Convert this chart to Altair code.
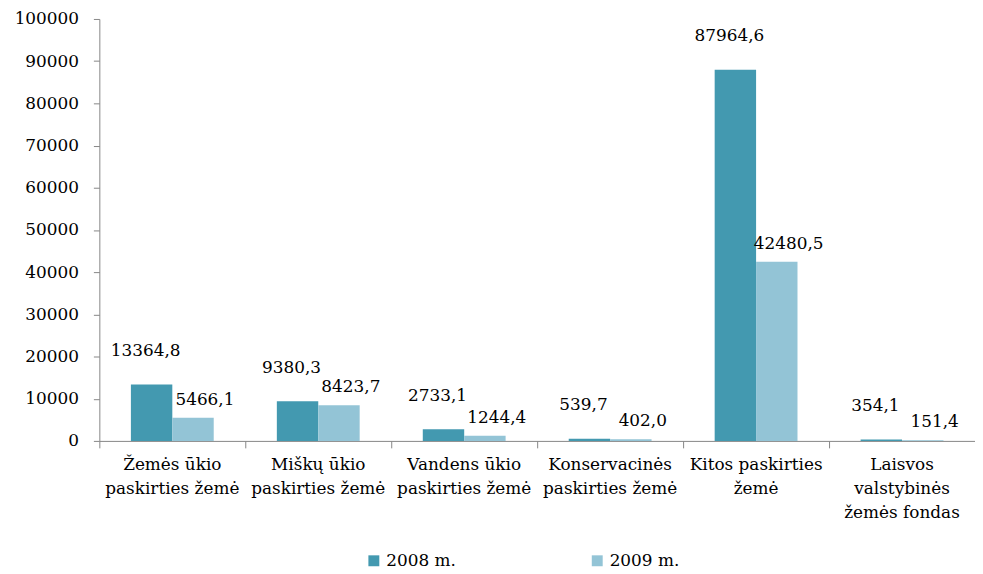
import altair as alt
import pandas as pd

categories = [
    "Žemės ūkio|paskirties žemė",
    "Miškų ūkio|paskirties žemė",
    "Vandens ūkio|paskirties žemė",
    "Konservacinės|paskirties žemė",
    "Kitos paskirties|žemė",
    "Laisvos|valstybinės|žemės fondas",
]
series = ["2008 m.", "2009 m."]
values_2008 = [13364.8, 9380.3, 2733.1, 539.7, 87964.6, 354.1]
values_2009 = [5466.1, 8423.7, 1244.4, 402.0, 42480.5, 151.4]
colors = ["#4399B0", "#93C4D6"]

rows = []
for c, v8, v9 in zip(categories, values_2008, values_2009):
    for s, v in zip(series, [v8, v9]):
        rows.append({"cat": c, "series": s, "value": v,
                     "label": f"{v:.1f}".replace(".", ",")})
df = pd.DataFrame(rows)

FONT = "DejaVu Serif"
FS = 17

x = alt.X("cat:N", sort=categories, title=None,
          scale=alt.Scale(paddingInner=0, paddingOuter=0),
          axis=alt.Axis(labelAngle=0, labelExpr="split(datum.value, '|')",
                        bandPosition=0, labelLineHeight=24, labelPadding=9,
                        tickSize=7, labelFontSize=FS, labelFont=FONT,
                        labelColor="#000000", domainColor="#868686",
                        tickColor="#868686", labelBaseline="top"))
xoff = alt.XOffset("series:N", sort=series,
                   scale=alt.Scale(paddingInner=0, paddingOuter=0.762))
y = alt.Y("value:Q", title=None,
          scale=alt.Scale(domain=[0, 100000], nice=False),
          axis=alt.Axis(values=list(range(0, 100001, 10000)), format="d",
                        grid=False, tickSize=6, labelPadding=15,
                        labelFontSize=FS, labelFont=FONT, labelColor="#000000",
                        domainColor="#868686", tickColor="#868686"))

bars = alt.Chart(df).mark_bar().encode(
    x=x, xOffset=xoff, y=y,
    color=alt.Color("series:N", sort=series,
                    scale=alt.Scale(domain=series, range=colors),
                    legend=alt.Legend(title=None, orient="none", legendX=268,
                                      legendY=537, direction="horizontal",
                                      columns=2, columnPadding=133,
                                      symbolType="square", symbolSize=121,
                                      symbolStrokeWidth=0, labelFontSize=FS,
                                      labelFont=FONT, labelColor="#000000",
                                      labelOffset=4)),
)

t8 = alt.Chart(df).transform_filter(alt.datum.series == series[0]).mark_text(
    font=FONT, fontSize=FS, color="#000000", baseline="middle", dy=-34, dx=-6
).encode(x=x, xOffset=xoff, y=y, text="label:N")
t9 = alt.Chart(df).transform_filter(alt.datum.series == series[1]).mark_text(
    font=FONT, fontSize=FS, color="#000000", baseline="middle", dy=-18, dx=12
).encode(x=x, xOffset=xoff, y=y, text="label:N")

chart = (bars + t8 + t9).properties(
    width=882, height=425,
    padding={"left": 6, "top": 0, "right": 0, "bottom": 0},
).configure_view(stroke=None)

chart.save("out.html", embed_options={"renderer": "svg", "actions": False})
